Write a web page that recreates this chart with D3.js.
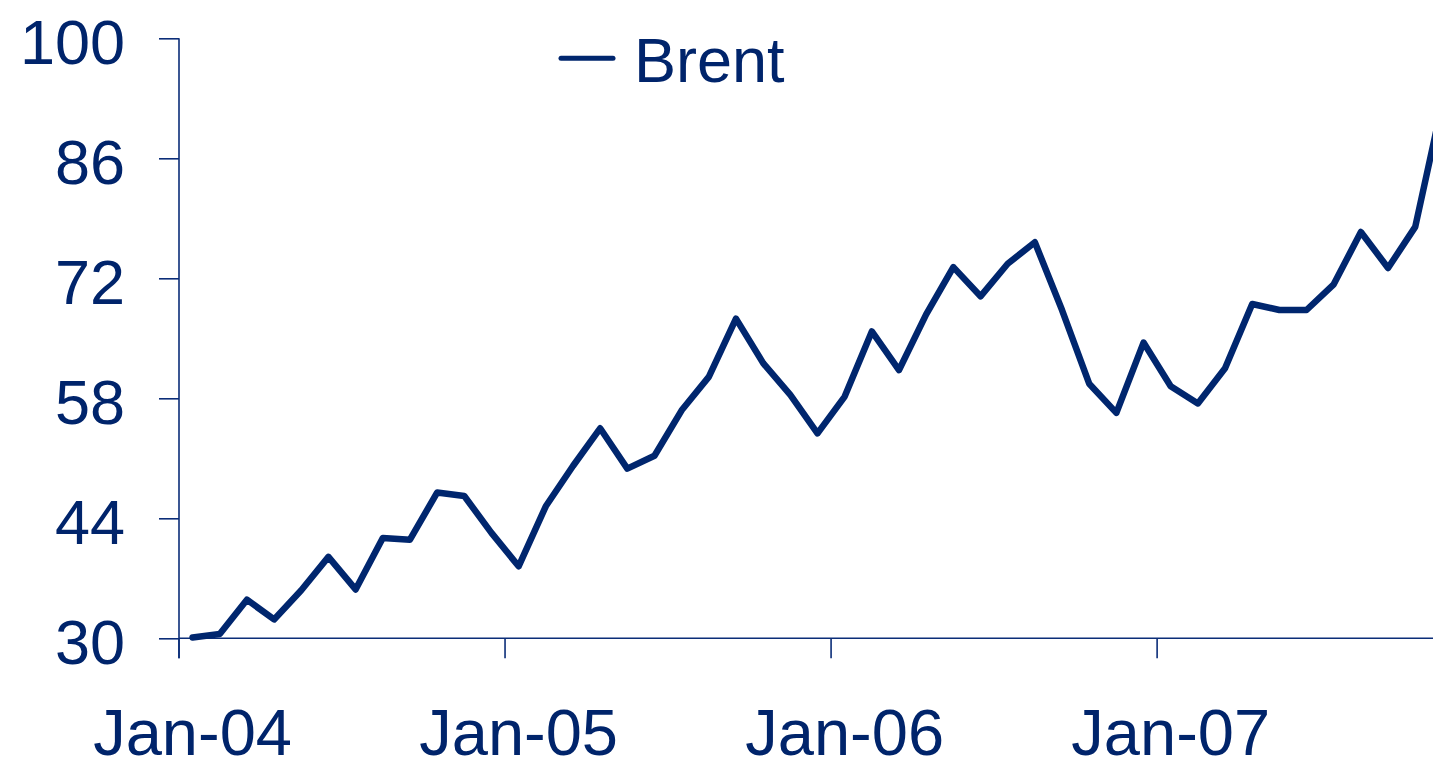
<!DOCTYPE html>
<meta charset="utf-8">

<script src="https://d3js.org/d3.v7.min.js"></script>

<style type="text/css">

body {
  margin: 0;
  overflow: hidden;
  background: #fff;
}

svg {
  display: block;
  font-family: "Liberation Sans", Arial, sans-serif;
}

.axis path, .axis line {
  stroke: #0b2d78;
  stroke-width: 1.6px;
}

.axis text {
  fill: #00246b;
  font-size: 63px;
}

.x.axis text {
  font-size: 65px;
}

</style>

<body>
</body>

<script>

  // monthly categories, Jan-04 .. Dec-07
  var months = [];
  ["04", "05", "06", "07"].forEach(function(yy) {
    ["Jan","Feb","Mar","Apr","May","Jun","Jul","Aug","Sep","Oct","Nov","Dec"].forEach(function(m) {
      months.push(m + "-" + yy);
    });
  });

  // Brent, $/bbl (last point runs off the right edge)
  var brent = [
    30.1, 30.5, 34.5, 32.2, 35.6, 39.5, 35.7, 41.7, 41.5, 47.0, 46.6, 42.3,
    38.4, 45.4, 50.1, 54.5, 49.8, 51.3, 56.6, 60.5, 67.3, 62.1, 58.4, 53.9,
    58.2, 65.8, 61.3, 67.8, 73.3, 69.9, 73.7, 76.2, 68.3, 59.7, 56.3, 64.5,
    59.4, 57.4, 61.5, 69.0, 68.3, 68.3, 71.3, 77.4, 73.2, 78.0, 92.5
  ];

  var yTicks = [30, 44, 58, 72, 86, 100];
  var xTickLabels = ["Jan-04", "Jan-05", "Jan-06", "Jan-07"];

  var color = "#00266e";
  var width = 1433, height = 762;
  var plotLeft = 179, plotTop = 38.3, plotBottom = 638.3;

  var svg = d3.select("body").append("svg")
      .attr("width", width)
      .attr("height", height);

  var xScale = d3.scaleBand()
    .domain(months)
    .range([plotLeft, plotLeft + 27.17 * months.length])
    .padding(0);

  var yScale = d3.scaleLinear()
    .domain([30, 100])
    .range([plotBottom, plotTop]);

  var bw = xScale.bandwidth();

  // y axis
  var yAxis = d3.axisLeft(yScale)
    .tickValues(yTicks)
    .tickSizeInner(20)
    .tickSizeOuter(0)
    .tickPadding(34);

  var gy = svg.append("g")
    .attr("class", "y axis")
    .attr("transform", "translate(" + plotLeft + ",0)")
    .call(yAxis);
  gy.select(".domain").remove();
  gy.append("line")
    .attr("x1", 0).attr("x2", 0)
    .attr("y1", plotTop).attr("y2", plotBottom + 20);
  gy.selectAll("text").attr("dy", "0.4em");

  // x axis: tick marks between categories, labels centred on January
  var xAxis = d3.axisBottom(xScale)
    .tickValues(xTickLabels)
    .tickSizeInner(20)
    .tickSizeOuter(0);

  var gx = svg.append("g")
    .attr("class", "x axis")
    .attr("transform", "translate(0," + plotBottom + ")")
    .call(xAxis);
  gx.select(".domain").remove();
  gx.append("line")
    .attr("x1", plotLeft).attr("x2", width + 60)
    .attr("y1", 0).attr("y2", 0);
  gx.selectAll(".tick line").attr("x1", -bw / 2).attr("x2", -bw / 2);
  gx.selectAll(".tick text").attr("y", 117).attr("dy", 0);

  // series
  var line = d3.line()
    .x(function(d, i) { return xScale(months[i]) + bw / 2; })
    .y(function(d) { return yScale(d); });

  svg.append("path")
    .datum(brent)
    .attr("d", line)
    .attr("fill", "none")
    .attr("stroke", color)
    .attr("stroke-width", 6.5)
    .attr("stroke-linejoin", "round")
    .attr("stroke-linecap", "round");

  // legend
  var legend = svg.append("g").attr("transform", "translate(561,58.3)");
  legend.append("line")
    .attr("x1", 0).attr("x2", 52)
    .attr("stroke", color)
    .attr("stroke-width", 5)
    .attr("stroke-linecap", "round");
  legend.append("text")
    .attr("x", 73)
    .attr("y", 23.4)
    .attr("fill", "#00246b")
    .style("font-size", "63px")
    .text("Brent");

</script>
